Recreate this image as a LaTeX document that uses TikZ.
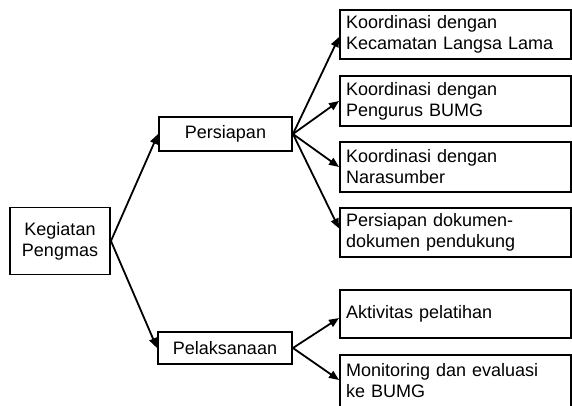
\documentclass[tikz,border=0pt]{standalone}
\usepackage{fontspec}
\setmainfont{Liberation Sans}
\usetikzlibrary{arrows.meta,calc}
\begin{document}
\begin{tikzpicture}[x=1pt,y=-1pt,
  box/.style={draw,line width=1.9pt,inner sep=0pt,font=\fontsize{18}{21}\selectfont,align=center},
  rbox/.style={draw,line width=1.9pt,inner xsep=6pt,inner ysep=0pt,text width=219pt,align=left,font=\fontsize{18}{21}\selectfont,minimum width=231pt},
  arr/.style={line width=1.8pt,-{Triangle[length=10pt,width=8pt]}}]
\path[use as bounding box] (0,0) rectangle (572,405);
\clip (0,0) rectangle (572,405);
\node[box,minimum width=100pt,minimum height=67pt] (k) at (60,241) {Kegiatan\\Pengmas};
\node[box,minimum width=133pt,minimum height=34pt] (p) at (225.5,134) {Persiapan};
\node[box,minimum width=134pt,minimum height=32pt] (l) at (225,348) {Pelaksanaan};
\node[rbox,minimum height=49pt] (b1) at (455.5,34.5) {Koordinasi dengan\\Kecamatan Langsa Lama};
\node[rbox,minimum height=50pt] (b2) at (455.5,101) {Koordinasi dengan\\Pengurus BUMG};
\node[rbox,minimum height=50pt] (b3) at (455.5,167) {Koordinasi dengan\\Narasumber};
\node[rbox,minimum height=49pt] (b4) at (455.5,232.5) {Persiapan dokumen-\\dokumen pendukung};
\node[rbox,minimum height=48pt] (b5) at (455.5,314) {Aktivitas pelatihan};
\node[rbox,minimum height=52pt] (b6) at (455.5,381) {Monitoring dan evaluasi\\ke BUMG};
\draw[arr] (k.east) -- (p.west);
\draw[arr] (k.east) -- (l.west);
\draw[arr] (p.east) -- ($(b1.west)+(0,2.5)$);
\draw[arr] (p.east) -- (b2.west);
\draw[arr] (p.east) -- (b3.west);
\draw[arr] (p.east) -- ($(b4.west)+(0,-4)$);
\draw[arr] (l.east) -- ($(b5.west)+(0,4)$);
\draw[arr] (l.east) -- ($(b6.west)+(0,-1)$);
\end{tikzpicture}
\end{document}
